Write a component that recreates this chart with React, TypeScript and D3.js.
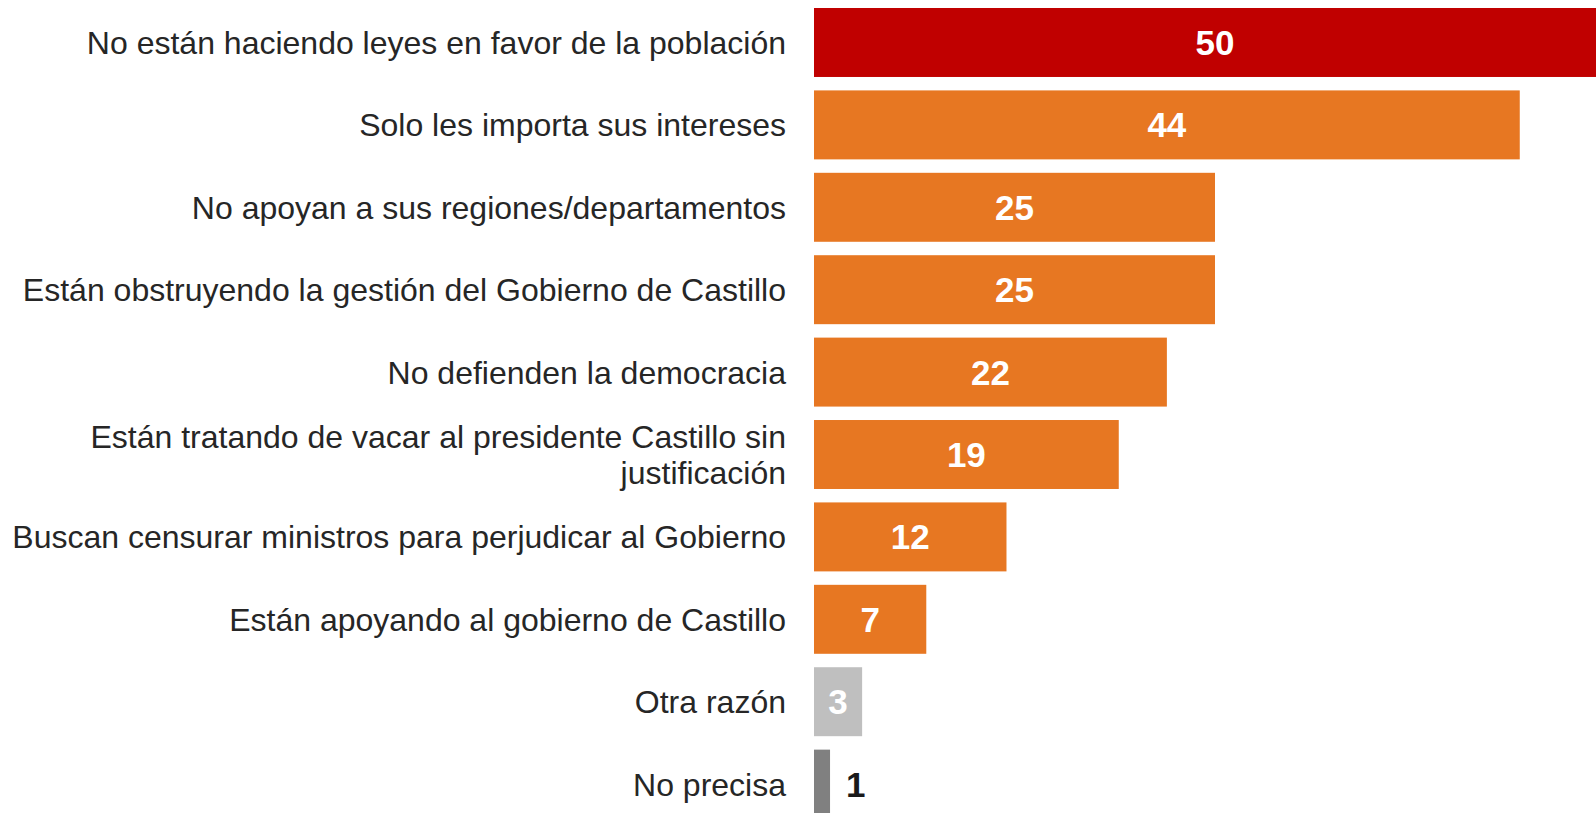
import React from 'react';
import * as d3 from 'd3';

// ── Data ──────────────────────────────────────────────────────────────────────
const categories = [
  'No están haciendo leyes en favor de la población',
  'Solo les importa sus intereses',
  'No apoyan a sus regiones/departamentos',
  'Están obstruyendo la gestión del Gobierno de Castillo',
  'No defienden la democracia',
  'Están tratando de vacar al presidente Castillo sin\njustificación',
  'Buscan censurar ministros para perjudicar al Gobierno',
  'Están apoyando al gobierno de Castillo',
  'Otra razón',
  'No precisa',
];
const values = [50, 44, 25, 25, 22, 19, 12, 7, 3, 1];
const barColors = [
  '#C00000', '#E77722', '#E77722', '#E77722', '#E77722',
  '#E77722', '#E77722', '#E77722', '#BFBFBF', '#808080',
];

// ── Layout ────────────────────────────────────────────────────────────────────
const W = 1596;
const H = 813;
const BAR_X0 = 814;
const LABEL_RIGHT = 786;
const FONT = '"Liberation Sans", Arial, sans-serif';

export default function App() {
  const x = d3.scaleLinear().domain([0, 1]).range([BAR_X0, BAR_X0 + 16.04]);

  const y = d3
    .scaleBand<number>()
    .domain(d3.range(categories.length))
    .range([8, 8 + 9 * 82.4 + 69])
    .paddingInner(0.163)
    .paddingOuter(0);

  const bw = y.bandwidth();

  return (
    <div
      style={{
        position: 'fixed',
        left: 0,
        top: 0,
        width: W,
        height: H,
        overflow: 'hidden',
        background: '#fff',
      }}
    >
      <svg width={W} height={H} style={{ display: 'block', fontFamily: FONT }}>
        {categories.map((cat, i) => {
          const v = values[i];
          const top = y(i) ?? 0;
          const cy = top + bw / 2;
          const x1 = x(v);
          const lines = cat.split('\n');
          const lineH = 36;
          const small = v < 2;
          return (
            <g key={i}>
              <rect x={BAR_X0} y={top} width={x1 - BAR_X0} height={bw} fill={barColors[i]} />
              <text
                x={LABEL_RIGHT}
                textAnchor="end"
                fontSize={32}
                fill="#262626"
              >
                {lines.map((ln, k) => (
                  <tspan
                    key={k}
                    x={LABEL_RIGHT}
                    y={cy + 11.5 + (k - (lines.length - 1) / 2) * lineH}
                  >
                    {ln}
                  </tspan>
                ))}
              </text>
              <text
                x={small ? x1 + 16 : (BAR_X0 + x1) / 2}
                y={cy + 12.5}
                textAnchor={small ? 'start' : 'middle'}
                fontSize={35}
                fontWeight="bold"
                fill={small ? '#1a1a1a' : '#fff'}
              >
                {v}
              </text>
            </g>
          );
        })}
      </svg>
    </div>
  );
}
